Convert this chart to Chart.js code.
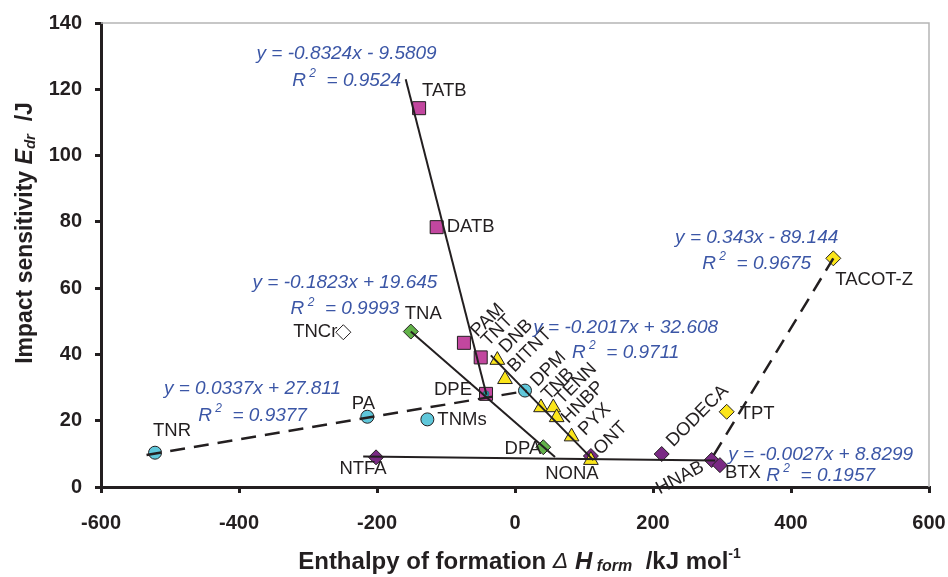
<!DOCTYPE html>
<html>
<head>
<meta charset="utf-8">
<title>Impact sensitivity vs enthalpy of formation</title>
<script src="https://cdn.jsdelivr.net/npm/chart.js@4.4.0/dist/chart.umd.min.js"></script>
<style>
  html, body { margin: 0; padding: 0; background: #fff; }
  #wrap { width: 948px; height: 577px; }
</style>
</head>
<body>
<div id="wrap"><canvas id="chart" width="948" height="577"></canvas></div>
<script>
// Values
const xTicks = [-600, -400, -200, 0, 200, 400, 600];
const yTicks = [0, 20, 40, 60, 80, 100, 120, 140];

// magenta squares
const squareNames = ['TATB', 'DATB', 'PAM', 'TNT', 'DPE'];
const squareX = [-139, -113.5, -74, -49.7, -42];
const squareY = [114.3, 78.4, 43.5, 39.1, 28.1];

// green diamonds
const greenNames = ['TNA', 'DPA'];
const greenX = [-151, 41];
const greenY = [46.9, 12.0];

// cyan circles
const circleNames = ['TNR', 'PA', 'TNMs', 'DPM'];
const circleX = [-521.7, -214, -127, 14.5];
const circleY = [10.35, 21.2, 20.4, 29.1];

// yellow triangles
const triangleNames = ['DNB', 'BITNT', 'TNB', 'TENN', 'HNBP', 'PYX', 'ONT'];
const triangleX = [-25.6, -14.5, 37.7, 55.5, 60.4, 82, 110];
const triangleY = [38.3, 32.5, 24.0, 24.0, 21.0, 15.2, 8.1];

// purple diamonds
const purpleNames = ['NTFA', 'NONA', 'DODECA', 'HNAB', 'BTX'];
const purpleX = [-201.4, 110, 212.6, 285, 297];
const purpleY = [8.95, 9.35, 9.95, 8.15, 6.6];

// yellow diamonds
const goldNames = ['TPT', 'TACOT-Z'];
const goldX = [306.8, 461.3];
const goldY = [22.7, 69.0];

// open diamond
const openNames = ['TNCr'];
const openX = [-248.8];
const openY = [46.7];

// trend line end points
const fitSquareX = [-158.4, -41.3];
const fitSquareY = [123.0, 27.8];
const fitGreenX = [-151, 58];
const fitGreenY = [46.9, 9.05];
const fitCircleX = [-534, 17];
const fitCircleY = [9.66, 29.0];
const fitTriangleX = [-35, 113.5];
const fitTriangleY = [39.7, 8.1];
const fitPurpleX = [-220, 290];
const fitPurpleY = [9.2, 8.0];
const fitGoldX = [288, 461.3];
const fitGoldY = [9.6, 69.0];

// trend line equations
const fitEquations = ['y = -0.8324x - 9.5809', 'y = -0.1823x + 19.645', 'y = -0.2017x + 32.608',
                      'y = 0.343x - 89.144', 'y = 0.0337x + 27.811', 'y = -0.0027x + 8.8299'];
const fitR2 = ['0.9524', '0.9993', '0.9711', '0.9675', '0.9377', '0.1957'];

const FONT = "'Liberation Sans', Arial, Helvetica, sans-serif";
const INK = '#231f20';
const BLUE = '#3b56a6';

// where each equation block sits (centre of the first line, in data units) and line gap in px
const eqPlacement = [
    { x: -244, y: 130.6, gap: 27 },
    { x: -246.4, y: 61.5, gap: 26 },
    { x: 160.4, y: 48.2, gap: 25 },
    { x: 350.3, y: 75.3, gap: 26.5 },
    { x: -380.4, y: 29.6, gap: 27 },
    { x: 443, y: 9.8, gap: 21.5 }
];

// label offsets from the marker, px
const labelPlacement = {
    TATB: { dx: 3, dy: -17, align: 'left' },
    DATB: { dx: 10, dy: 0, align: 'left' },
    TNA: { dx: -6, dy: -18, align: 'left' },
    TNCr: { dx: -6, dy: 0, align: 'right' },
    DPE: { dx: -14, dy: -4, align: 'right' },
    PA: { dx: -4, dy: -13, align: 'center' },
    TNMs: { dx: 10, dy: 1, align: 'left' },
    TNR: { dx: -2, dy: -22, align: 'left' },
    NTFA: { dx: -13, dy: 12, align: 'center' },
    DPA: { dx: -2, dy: 2, align: 'right' },
    NONA: { dx: -19, dy: 18, align: 'center' },
    BTX: { dx: 5, dy: 8, align: 'left' },
    TPT: { dx: 13, dy: 2, align: 'left' },
    'TACOT-Z': { dx: 2, dy: 22, align: 'left' },
    PAM: { dx: 10, dy: -9, align: 'left', rot: -45 },
    TNT: { dx: 4, dy: -14, align: 'left', rot: -45 },
    DNB: { dx: 5, dy: -10, align: 'left', rot: -45 },
    BITNT: { dx: 6, dy: -10, align: 'left', rot: -45 },
    DPM: { dx: 9, dy: -7, align: 'left', rot: -45 },
    TNB: { dx: 4, dy: -10, align: 'left', rot: -45 },
    TENN: { dx: 5, dy: -6, align: 'left', rot: -45 },
    HNBP: { dx: 8, dy: 3, align: 'left', rot: -45 },
    PYX: { dx: 10, dy: -4, align: 'left', rot: -45 },
    ONT: { dx: 6, dy: -8, align: 'left', rot: -45 },
    DODECA: { dx: 8, dy: -10, align: 'left', rot: -45 },
    HNAB: { dx: -9, dy: 6, align: 'right', rot: -28 }
};

function toPoints(xs, ys) {
    return xs.map((x, i) => ({ x: x, y: ys[i] }));
}

function markerSet(names, xs, ys, style, fill, radius, order) {
    return {
        data: toPoints(xs, ys),
        names: names,
        showLine: false,
        pointStyle: style,
        pointRadius: radius,
        pointBackgroundColor: fill,
        pointBorderColor: INK,
        pointBorderWidth: 1,
        order: order
    };
}

function fitLine(xs, ys, dashed) {
    return {
        data: toPoints(xs, ys),
        showLine: true,
        pointRadius: 0,
        borderColor: INK,
        borderWidth: dashed ? 2.5 : 2,
        borderDash: dashed ? [15, 9] : [],
        fill: false,
        order: 0
    };
}

// draw a sequence of text runs (different fonts / baseline shifts) centred on x
function drawRuns(ctx, runs, cx, cy) {
    let total = 0;
    runs.forEach(r => { ctx.font = r.font; r.w = ctx.measureText(r.text).width; total += r.w; });
    let x = cx - total / 2;
    ctx.textAlign = 'left';
    ctx.textBaseline = 'middle';
    runs.forEach(r => {
        ctx.font = r.font;
        ctx.fillText(r.text, x, cy + (r.dy || 0));
        x += r.w;
    });
}

const decorPlugin = {
    id: 'decor',
    beforeDatasetsDraw(chart) {
        const { ctx, chartArea } = chart;
        ctx.save();
        ctx.strokeStyle = '#b5b5b5';
        ctx.lineWidth = 1.5;
        ctx.beginPath();
        ctx.moveTo(chartArea.left, chartArea.top);
        ctx.lineTo(chartArea.right, chartArea.top);
        ctx.lineTo(chartArea.right, chartArea.bottom);
        ctx.stroke();
        ctx.restore();
    },
    afterDraw(chart) {
        const { ctx } = chart;
        const xs = chart.scales.x;
        const ys = chart.scales.y;
        ctx.save();

        // point labels
        ctx.fillStyle = INK;
        ctx.font = '18.5px ' + FONT;
        chart.data.datasets.forEach((ds, di) => {
            if (!ds.names) return;
            const meta = chart.getDatasetMeta(di);
            ds.names.forEach((name, i) => {
                const pl = labelPlacement[name];
                if (!pl) return;
                const el = meta.data[i];
                ctx.save();
                ctx.translate(el.x + pl.dx, el.y + pl.dy);
                if (pl.rot) ctx.rotate(pl.rot * Math.PI / 180);
                ctx.textAlign = pl.align;
                ctx.textBaseline = 'middle';
                ctx.fillText(name, 0, 0);
                ctx.restore();
            });
        });

        // trend line equations
        ctx.fillStyle = BLUE;
        fitEquations.forEach((eq, i) => {
            const p = eqPlacement[i];
            const cx = xs.getPixelForValue(p.x);
            const cy = ys.getPixelForValue(p.y);
            drawRuns(ctx, [{ text: eq, font: 'italic 19px ' + FONT }], cx, cy);
            drawRuns(ctx, [
                { text: 'R', font: 'italic 19px ' + FONT },
                { text: ' 2', font: 'italic 12px ' + FONT, dy: -7 },
                { text: '  = ' + fitR2[i], font: 'italic 19px ' + FONT }
            ], cx, cy + p.gap);
        });

        // axis titles
        ctx.fillStyle = INK;
        drawRuns(ctx, [
            { text: 'Enthalpy of formation ', font: 'bold 24px ' + FONT },
            { text: '\u0394', font: 'italic 23px ' + FONT },
            { text: ' H', font: 'bold italic 24px ' + FONT },
            { text: ' form', font: 'bold italic 16px ' + FONT, dy: 5 },
            { text: '  /kJ mol', font: 'bold 24px ' + FONT },
            { text: '-1', font: 'bold 14px ' + FONT, dy: -8 }
        ], 519.5, 562);

        ctx.translate(26, 233);
        ctx.rotate(-Math.PI / 2);
        drawRuns(ctx, [
            { text: 'Impact sensitivity ', font: 'bold 23px ' + FONT },
            { text: 'E', font: 'bold italic 23px ' + FONT },
            { text: 'dr', font: 'bold italic 15px ' + FONT, dy: 5 },
            { text: '  /J', font: 'bold 23px ' + FONT }
        ], 0, 0);
        ctx.restore();
    }
};

const tickFont = { family: FONT, size: 20, weight: 'bold' };

new Chart(document.getElementById('chart'), {
    type: 'scatter',
    data: {
        datasets: [
            fitLine(fitSquareX, fitSquareY, false),
            fitLine(fitGreenX, fitGreenY, false),
            fitLine(fitCircleX, fitCircleY, true),
            fitLine(fitTriangleX, fitTriangleY, false),
            fitLine(fitPurpleX, fitPurpleY, false),
            fitLine(fitGoldX, fitGoldY, true),
            markerSet(triangleNames, triangleX, triangleY, 'triangle', '#fbe51a', 8.5, 1),
            {
                data: toPoints([squareX[4]], [squareY[4]]),
                pointStyle: 'circle', pointRadius: 3, pointBackgroundColor: '#1f9aa0',
                pointBorderColor: '#1f5f66', pointBorderWidth: 0.5, order: 1
            },
            markerSet(squareNames, squareX, squareY, 'rect', '#c2479f', 9.2, 2),
            markerSet(greenNames, greenX, greenY, 'rectRot', '#62b249', 7.5, 3),
            markerSet(circleNames, circleX, circleY, 'circle', '#5fc7da', 6.5, 3),
            markerSet(purpleNames, purpleX, purpleY, 'rectRot', '#7a2a84', 7.5, 3),
            markerSet(goldNames, goldX, goldY, 'rectRot', '#fbe51a', 7.5, 3),
            markerSet(openNames, openX, openY, 'rectRot', '#ffffff', 7.5, 3)
        ]
    },
    options: {
        responsive: false,
        animation: false,
        events: [],
        layout: { padding: { left: 0, right: 19, top: 23, bottom: 0 } },
        plugins: {
            legend: { display: false },
            tooltip: { enabled: false }
        },
        scales: {
            x: {
                type: 'linear',
                min: -600,
                max: 600,
                afterBuildTicks: s => { s.ticks = xTicks.map(v => ({ value: v })); },
                afterFit: s => { s.height = 90; s.paddingLeft = 0; s.paddingRight = 0; },
                ticks: { font: tickFont, color: INK, padding: 18, maxRotation: 0 },
                grid: { drawOnChartArea: false, drawTicks: true, tickLength: 6, color: INK, lineWidth: 3 },
                border: { color: INK, width: 3 }
            },
            y: {
                type: 'linear',
                min: 0,
                max: 140,
                afterBuildTicks: s => { s.ticks = yTicks.map(v => ({ value: v })); },
                afterFit: s => { s.width = 101; s.paddingTop = 0; s.paddingBottom = 0; },
                ticks: { font: tickFont, color: INK, padding: 13 },
                grid: { drawOnChartArea: false, drawTicks: true, tickLength: 6, color: INK, lineWidth: 3 },
                border: { color: INK, width: 3 }
            }
        }
    },
    plugins: [decorPlugin]
});
</script>
</body>
</html>
